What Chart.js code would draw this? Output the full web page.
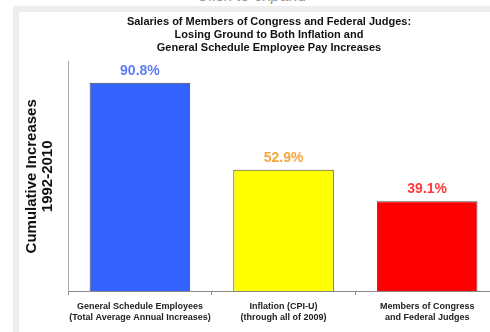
<!DOCTYPE html>
<html lang="en">
<head>
    <meta charset="UTF-8">
    <title>Salaries of Members of Congress and Federal Judges</title>
    <script src="https://cdn.jsdelivr.net/npm/chart.js@4.4.1/dist/chart.umd.min.js"></script>
    <style>
        html, body {
            margin: 0;
            padding: 0;
            width: 490px;
            height: 332px;
            overflow: hidden;
            background: #fff;
            font-family: Arial, "Liberation Sans", sans-serif;
        }
        /* legenda da página, quase toda cortada no topo */
        .caption {
            position: absolute;
            left: 0;
            width: 504px;
            top: -13px;
            text-align: center;
            font-size: 16px;
            font-style: italic;
            color: #9a9a9a;
        }
        .frame {
            position: absolute;
            left: 13px;
            top: 6px;
            width: 520px;
            height: 340px;
            background: #eeeeee;
        }
        .panel {
            position: absolute;
            left: 19px;
            top: 12px;
            width: 520px;
            height: 340px;
            background: #fff;
        }
        #grafico {
            position: absolute;
            left: 19px;
            top: 12px;
        }
    </style>
</head>
<body>
    <div class="caption">Click to expand</div>
    <div class="frame"></div>
    <div class="panel"></div>
    <canvas id="grafico" width="480" height="320"></canvas>

    <script>
        // dados
        const titleLines = [
            'Salaries of Members of Congress and Federal Judges:',
            'Losing Ground to Both Inflation and',
            'General Schedule Employee Pay Increases'
        ];
        const categories = [
            ['General Schedule Employees', '(Total Average Annual Increases)'],
            ['Inflation (CPI-U)', '(through all of 2009)'],
            ['Members of Congress', 'and Federal Judges']
        ];
        const increases = [90.8, 52.9, 39.1];
        const yTitle = ['Cumulative Increases', '1992-2010'];

        // rótulos de valor acima das barras
        const valueLabels = {
            id: 'valueLabels',
            afterDatasetsDraw(chart) {
                const ctx = chart.ctx;
                const ds = chart.data.datasets[0];
                const meta = chart.getDatasetMeta(0);
                ctx.save();
                ctx.font = 'bold 14px Arial, "Liberation Sans", sans-serif';
                ctx.textAlign = 'center';
                ctx.textBaseline = 'alphabetic';
                meta.data.forEach((bar, i) => {
                    ctx.fillStyle = ds.labelColors[i];
                    ctx.fillText(ds.data[i].toFixed(1) + '%', bar.x, bar.y - 8);
                });
                ctx.restore();
            }
        };

        const ctx = document.getElementById('grafico').getContext('2d');
        const chart = new Chart(ctx, {
            type: 'bar',
            data: {
                labels: categories,
                datasets: [{
                    data: increases,
                    backgroundColor: ['#3362ff', '#ffff00', '#ff0000'],
                    borderColor: '#4a4a4a',
                    borderWidth: 1,
                    borderSkipped: 'bottom',
                    labelColors: ['#5f7df7', '#f7a63c', '#ff3a3a'],
                    barPercentage: 0.7,
                    categoryPercentage: 1
                }]
            },
            options: {
                responsive: false,
                animation: false,
                layout: {
                    padding: { left: 20, right: 0, top: 0, bottom: 3 }
                },
                plugins: {
                    legend: { display: false },
                    tooltip: { enabled: false },
                    title: {
                        display: true,
                        text: titleLines,
                        color: '#111',
                        font: { family: 'Arial', size: 11, weight: 'bold', lineHeight: 1.2 },
                        padding: { top: 3, bottom: 7 }
                    }
                },
                scales: {
                    x: {
                        offset: true,
                        grid: {
                            display: true,
                            drawOnChartArea: false,
                            drawTicks: true,
                            tickLength: 4,
                            color: '#888'
                        },
                        border: { display: true, color: '#888' },
                        ticks: {
                            color: '#222',
                            padding: 6,
                            maxRotation: 0,
                            autoSkip: false,
                            font: { family: 'Arial', size: 9, weight: 'bold', lineHeight: 1.22 }
                        }
                    },
                    y: {
                        min: 0,
                        max: 100,
                        grid: { display: false, drawTicks: false },
                        border: { display: true, color: '#aaa' },
                        ticks: { display: false },
                        title: {
                            display: true,
                            text: yTitle,
                            color: '#111',
                            font: { family: 'Arial', size: 15, weight: 'bold', lineHeight: 1.07 },
                            padding: { top: -15, bottom: 12 }
                        }
                    }
                }
            },
            plugins: [valueLabels]
        });
    </script>
</body>
</html>
